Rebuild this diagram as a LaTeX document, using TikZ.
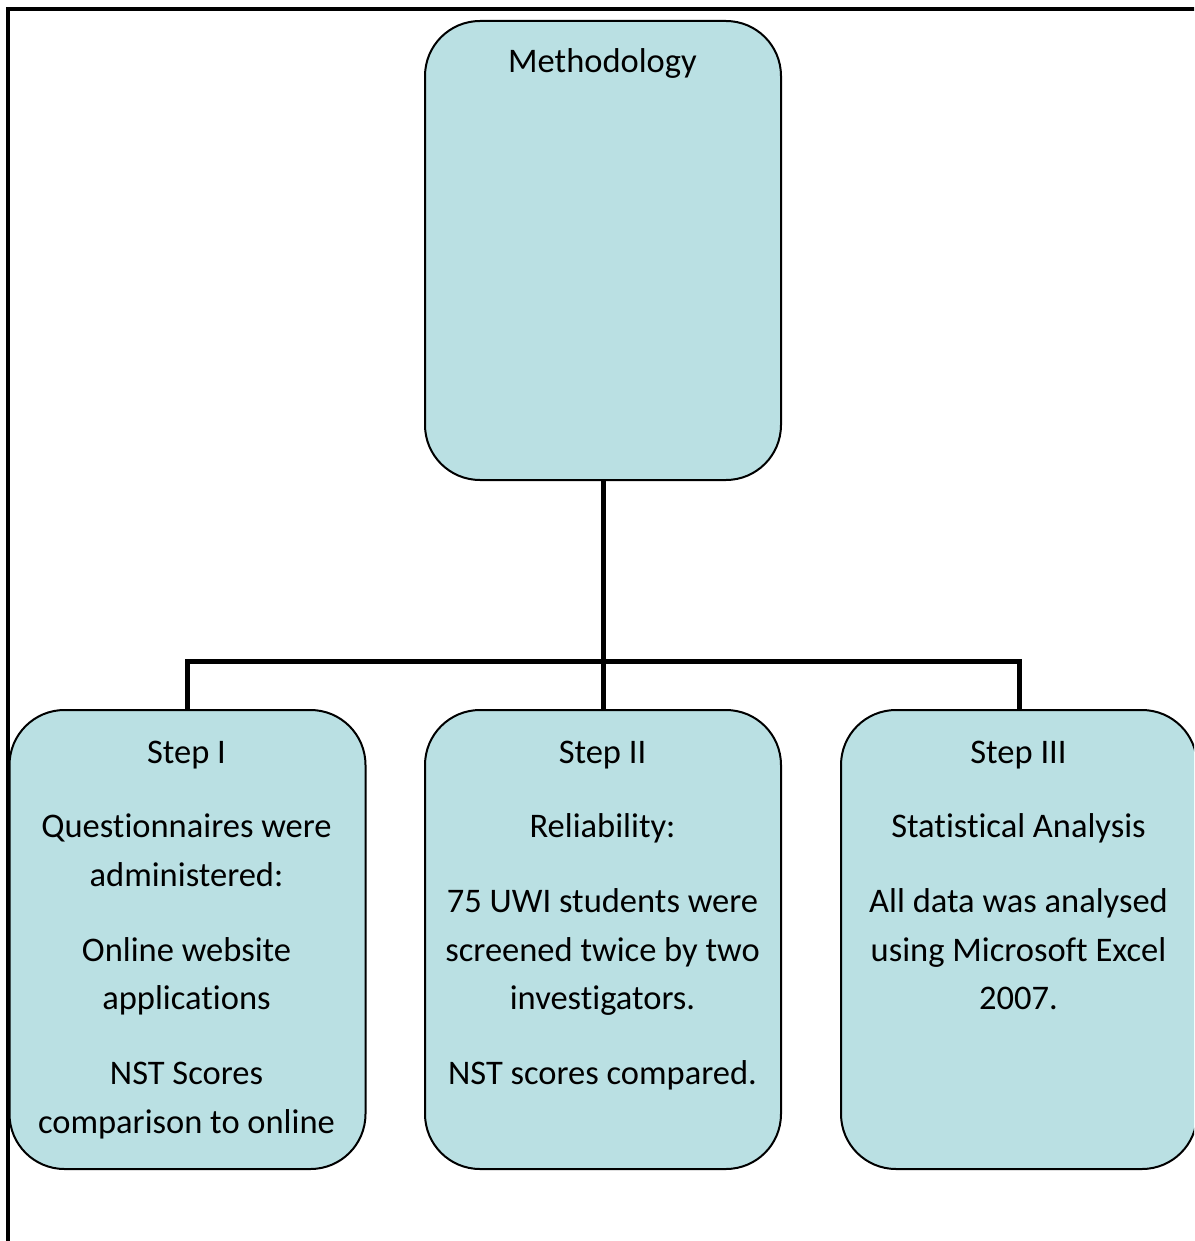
\documentclass[tikz,border=0pt]{standalone}
\usepackage{fontspec}
\setmainfont{Carlito}[RawFeature={-liga;-clig}]
\definecolor{boxfill}{RGB}{186,224,227}
\begin{document}
\begin{tikzpicture}[x=1pt,y=-1pt,
  box/.style={draw=black, line width=2pt, fill=boxfill, rounded corners=55pt,
    minimum width=356pt, minimum height=459pt, inner sep=0pt, anchor=north west},
  conn/.style={draw=black, line width=5pt},
  frame/.style={draw=black, line width=4pt},
  txt/.style={anchor=base, inner sep=0pt, font=\fontsize{34.5pt}{42pt}\selectfont}]
\useasboundingbox (0,0) rectangle (1194,1241);
\clip (0,0) rectangle (1194,1241);
% frame
\draw[frame] (8,1245) -- (8,9.5) -- (1200,9.5);
% boxes
\node[box] (meth) at (424,20) {};
\node[box] (s1) at (8.5,709) {};
\node[box] (s2) at (424,709) {};
\node[box] (s3) at (840,709) {};
% connectors
\coordinate (bus) at (602,661);
\draw[conn] (meth.south) -- (s2.north);
\draw[conn] (s1.north) |- (bus) -| (s3.north);
% texts
\node[txt] (tm) at (602.5,73) {Methodology};
\node[txt] (t11) at (186.5,763) {Step I};
\node[txt] (t12) at (186.5,837) {Questionnaires were};
\node[txt] (t13) at (186.5,886) {administered:};
\node[txt] (t14) at (186.5,961) {Online website};
\node[txt] (t15) at (186.5,1009) {applications};
\node[txt] (t16) at (186.5,1084) {NST Scores};
\node[txt] (t17) at (186.5,1133) {comparison to online};
\node[txt] (t21) at (602.5,763) {Step II};
\node[txt] (t22) at (602.5,837) {Reliability:};
\node[txt] (t23) at (602.5,912) {75 UWI students were};
\node[txt] (t24) at (602.5,961) {screened twice by two};
\node[txt] (t25) at (602.5,1009) {investigators.};
\node[txt] (t26) at (602.5,1084) {NST scores compared.};
\node[txt] (t31) at (1018.5,763) {Step III};
\node[txt] (t32) at (1018.5,837) {Statistical Analysis};
\node[txt] (t33) at (1018.5,912) {All data was analysed};
\node[txt] (t34) at (1018.5,961) {using Microsoft Excel};
\node[txt] (t35) at (1018.5,1009) {2007.};
\end{tikzpicture}
\end{document}
